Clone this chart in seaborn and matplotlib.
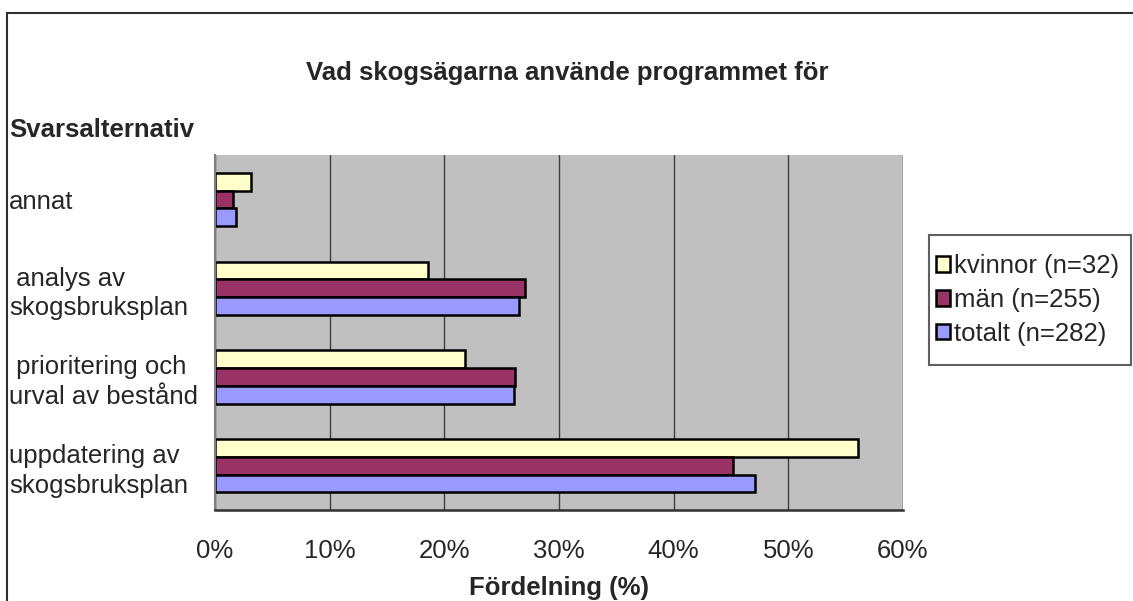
import pandas as pd
import numpy as np
import matplotlib.pyplot as plt
import seaborn as sns
from matplotlib.patches import Rectangle

# Data
kategorier = ['annat', ' analys av\nskogsbruksplan', ' prioritering och\nurval av bestånd',
              'uppdatering av\nskogsbruksplan']
grupper = ['kvinnor (n=32)', 'män (n=255)', 'totalt (n=282)']
kvinnor = [3.1, 18.6, 21.8, 56.1]
man = [1.6, 27.0, 26.2, 45.2]
totalt = [1.8, 26.5, 26.1, 47.1]
farger = ['#FFFFCC', '#993366', '#9999FF']
xticks = [0, 10, 20, 30, 40, 50, 60]

df = pd.DataFrame({
    'kategori': kategorier * 3,
    'grupp': [grupper[0]] * 4 + [grupper[1]] * 4 + [grupper[2]] * 4,
    'andel': kvinnor + man + totalt,
})

sns.set_style("white")
plt.rcParams['font.family'] = ['Liberation Sans', 'DejaVu Sans']
fs = 18.5

fig = plt.figure(figsize=(11.33, 6.01), dpi=100)
ax = fig.add_axes([215 / 1133, 1 - 510 / 601, (903 - 215) / 1133, (510 - 155) / 601])
ax.set_facecolor('#C0C0C0')

sns.barplot(data=df, y='kategori', x='andel', hue='grupp', order=kategorier,
            hue_order=grupper, palette=farger, orient='h', width=0.6,
            edgecolor='black', linewidth=1.8, saturation=1, ax=ax)

ax.set_xlim(0, 60)
ax.set_ylim(3.5, -0.5)
ax.set_xticks(xticks)
ax.set_xticklabels([f'{v}%' for v in xticks], fontsize=fs)
ax.xaxis.grid(True, color='#404040', linewidth=1)
ax.set_axisbelow(True)
ax.tick_params(axis='x', direction='out', length=5, width=1.2, color='#303030', pad=16)

# kategori-etiketter vänsterjusterade vid figurens kant
ax.set_yticks(range(len(kategorier)))
ax.set_yticklabels(kategorier, fontsize=fs, ha='left', linespacing=1.3)
ax.tick_params(axis='y', which='major', length=0, pad=(215 - 9) * 72 / 100)
ax.set_yticks(np.arange(-0.5, 4, 1), minor=True)
ax.tick_params(axis='y', which='minor', direction='out', length=5, width=1.2, color='#808080')

for s in ['top', 'right']:
    ax.spines[s].set_visible(False)
ax.spines['left'].set_color('#808080')
ax.spines['left'].set_linewidth(1.5)
ax.spines['bottom'].set_color('#303030')
ax.spines['bottom'].set_linewidth(1.8)

ax.set_ylabel('')
ax.set_xlabel('Fördelning (%)', fontsize=fs, fontweight='bold', labelpad=9)

fig.text(567 / 1133, 1 - 73 / 601, 'Vad skogsägarna använde programmet för',
         fontsize=fs, fontweight='bold', ha='center', va='center')
fig.text(9 / 1133, 1 - 130 / 601, 'Svarsalternativ', fontsize=fs,
         fontweight='bold', ha='left', va='center')

leg = ax.legend(loc='center left', bbox_to_anchor=(931 / 1133, 1 - 300 / 601),
                bbox_transform=fig.transFigure, fontsize=fs, frameon=False,
                handlelength=0.55, handleheight=0.55, handletextpad=0.15,
                labelspacing=0.38, borderpad=0.2, borderaxespad=0)

# legendens ram (mer luft upptill/nedtill än i sidled)
fig.add_artist(Rectangle((929 / 1133, 1 - 365 / 601), 202 / 1133, 130 / 601,
                         transform=fig.transFigure, fill=False,
                         edgecolor='#606060', linewidth=1.5))

# ram runt diagrammet
fig.add_artist(Rectangle((7 / 1133, -0.1), 2, 1 - 13 / 601 + 0.1,
                         transform=fig.transFigure, fill=False,
                         edgecolor='#303030', linewidth=1.5))

plt.savefig('out.png', dpi=100)
